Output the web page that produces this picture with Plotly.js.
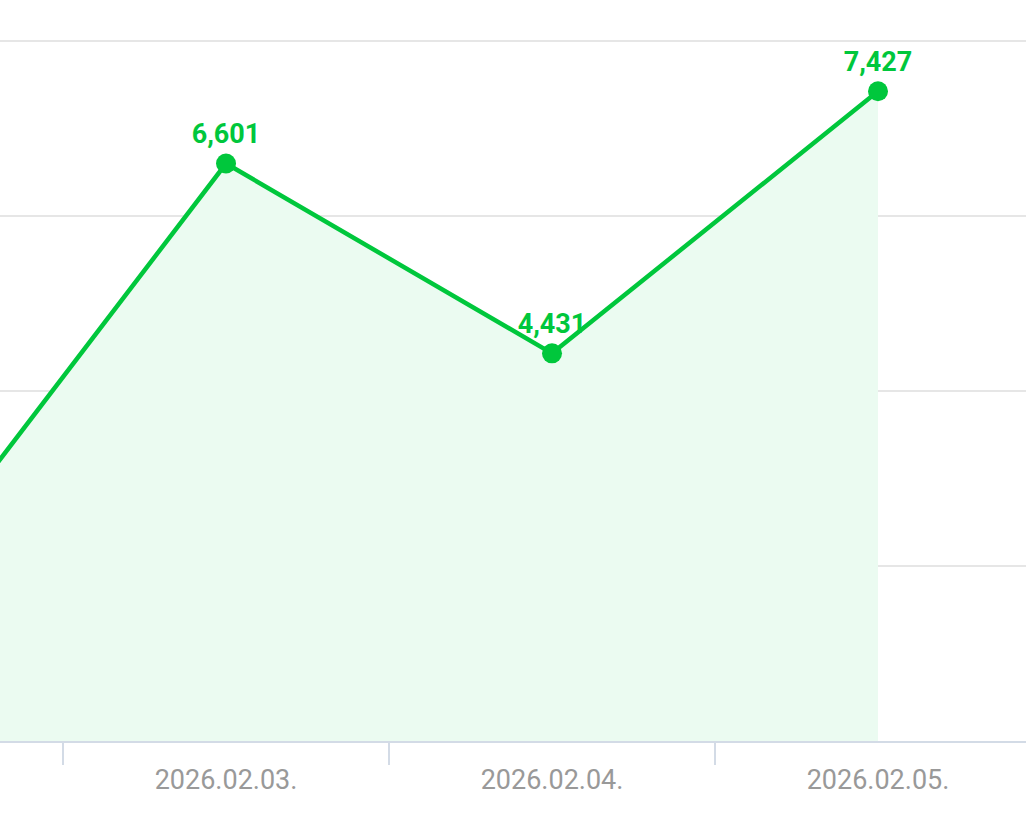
<!DOCTYPE html>
<html>
<head>
<meta charset="utf-8">
<script src="https://cdn.plot.ly/plotly-3.0.1.min.js"></script>
<style>html,body{margin:0;padding:0;background:#fff;}#chart{width:1026px;height:833px;}</style>
</head>
<body>
<div id="chart"></div>
<script>
const dates = ['2026.02.02.', '2026.02.03.', '2026.02.04.', '2026.02.05.'];
const values = [1720, 6601, 4431, 7427];
// the first point lies outside the visible crop, so its label is not drawn
const labels = ['', '6,601', '4,431', '7,427'];

const trace = {
  x: dates,
  y: values,
  type: 'scatter',
  mode: 'lines+markers+text',
  text: labels,
  textposition: 'top center',
  textfont: {family: 'Roboto', size: 27, color: '#00c73c', weight: 'bold'},
  line: {color: '#00c73c', width: 4.5},
  marker: {color: '#00c73c', size: 20},
  fill: 'tozeroy',
  fillcolor: '#ebfbf1',
  hoverinfo: 'none',
  cliponaxis: true
};

const layout = {
  width: 1026,
  height: 833,
  margin: {l: 0, r: 0, t: 0, b: 92},
  paper_bgcolor: '#ffffff',
  plot_bgcolor: '#ffffff',
  showlegend: false,
  xaxis: {
    type: 'category',
    categoryorder: 'array',
    categoryarray: dates,
    range: [0.3067, 3.454],
    tickson: 'boundaries',
    ticks: 'outside',
    ticklen: 22,
    tickwidth: 2,
    tickcolor: '#d3dbe6',
    showline: true,
    linecolor: '#d3dbe6',
    linewidth: 2,
    showgrid: false,
    zeroline: false,
    tickfont: {family: 'Roboto', size: 27, color: '#999999'},
    ticklabelstandoff: 14
  },
  yaxis: {
    range: [0, 8470],
    dtick: 2000,
    tick0: 0,
    showticklabels: false,
    showgrid: true,
    gridcolor: '#e6e6e6',
    gridwidth: 2,
    zeroline: false,
    showline: false,
    ticks: ''
  }
};

Plotly.newPlot('chart', [trace], layout, {staticPlot: true, displayModeBar: false});
</script>
</body>
</html>
